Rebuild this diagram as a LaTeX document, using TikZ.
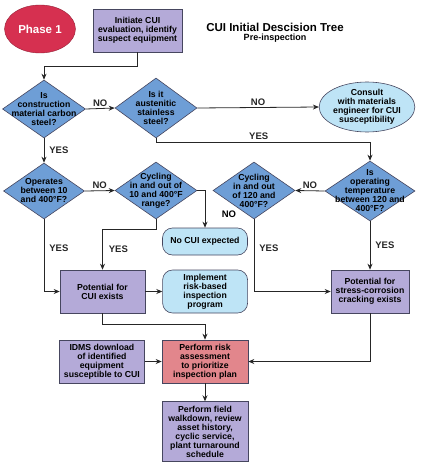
\documentclass[tikz,border=0pt]{standalone}
\usepackage{fontspec}
\setmainfont{Liberation Sans}
\usetikzlibrary{shapes.geometric, arrows.meta, positioning}
\definecolor{decblue}{RGB}{110, 158, 214}
\definecolor{boxpurple}{RGB}{180, 170, 216}
\definecolor{termblue}{RGB}{190, 228, 246}
\definecolor{riskpink}{RGB}{226, 134, 140}
\definecolor{phasered}{RGB}{214, 48, 80}
\definecolor{edgegray}{RGB}{70, 70, 95}

\begin{document}
\begin{tikzpicture}[
    x=1pt, y=-1pt,
    decision/.style={diamond, draw=edgegray, fill=decblue, line width=0.6pt, inner sep=0pt, minimum width=82pt, minimum height=57pt},
    dtext/.style={align=center, font=\fontsize{8.7}{9}\selectfont\bfseries, inner sep=0pt},
    process/.style={rectangle, draw=edgegray, fill=boxpurple, line width=0.6pt, minimum width=85pt, minimum height=43pt, align=center, inner sep=1pt, font=\fontsize{8.7}{9}\selectfont\bfseries},
    terminal/.style={process, rounded corners=10pt, fill=termblue},
    arrow/.style={-{Stealth[length=6pt, width=5pt]}, line width=0.8pt, color=black!85},
    lbl/.style={font=\fontsize{9.5}{10}\selectfont\bfseries, inner sep=2pt}
]
    \useasboundingbox (0,0) rectangle (421,468);

    % top row
    \node[ellipse, draw=phasered!70!black, fill=phasered, minimum width=66pt, minimum height=48pt, text=white, font=\fontsize{11.5}{12}\selectfont\bfseries] (phase) at (40,29) {Phase 1};
    \node[process, minimum width=89pt] (init) at (137.5,30.5) {Initiate CUI\\evaluation, identify\\suspect equipment};
    \node[font=\fontsize{11.5}{12}\selectfont\bfseries, inner sep=0pt] (title) at (275,27) {CUI Initial Descision Tree};
    \node[font=\fontsize{9}{9}\selectfont\bfseries, inner sep=0pt] (subtitle) at (275,38.5) {Pre-inspection};

    % material questions
    \node[decision, minimum width=83pt, minimum height=58pt, label={[dtext]center:Is\\construction\\material carbon\\steel?}] (d1) at (44,109) {};
    \node[decision, minimum height=60pt, label={[dtext]center:Is it\\austenitic\\stainless\\steel?}] (d2) at (156,108) {};
    \node[ellipse, draw=edgegray, fill=termblue, line width=0.6pt, minimum width=94pt, minimum height=50pt, inner sep=0pt, align=center, font=\fontsize{8.7}{9}\selectfont\bfseries] (consult) at (367,107) {Consult\\with materials\\engineer for CUI\\susceptibility};

    % temperature questions
    \node[decision, minimum width=81pt, minimum height=56pt, label={[dtext]center:Operates\\between 10\\and 400°F?}] (d3) at (44,191) {};
    \node[decision, label={[dtext]center:Cycling\\in and out of\\10 and 400°F\\range?}] (d4) at (156,190.5) {};
    \node[decision, label={[dtext]center:Cycling\\in and out\\of 120 and\\400°F?}] (d5) at (254,190.5) {};
    \node[decision, minimum width=90pt, minimum height=60pt, label={[dtext]center:Is\\operating\\temperature\\between 120 and\\400°F?}] (d6) at (370,191) {};

    % outcomes
    \node[terminal, minimum height=27pt] (nocui) at (205,241.5) {No CUI expected};
    \node[process] (pcui) at (102.5,291.5) {Potential for\\CUI exists};
    \node[terminal, right=17pt of pcui] (impl) {Implement\\risk-based\\inspection\\program};
    \node[process, minimum width=78pt] (scc) at (370,291.5) {Potential for\\stress-corrosion\\cracking exists};

    % bottom
    \node[process, fill=riskpink, minimum width=86pt] (risk) at (205,361.5) {Perform risk\\assessment\\to prioritize\\inspection plan};
    \node[process, left=17pt of risk] (idms) {IDMS download\\of identified\\equipment\\susceptible to CUI};
    \node[process, minimum width=86pt, minimum height=60pt, below=18pt of risk] (field) {Perform field\\walkdown, review\\asset history,\\cyclic service,\\plant turnaround\\schedule};

    \draw[arrow] (init.south) -- ++(0,14) -| (d1.north);
    \draw[arrow] (d1.east) -- node[lbl, above] {NO} (d2.west);
    \draw[arrow] (d2.east) -- node[lbl, above] {NO} (consult.west);
    \draw[arrow] (d2.south) -- ++(0,4) -| node[lbl, above, pos=0.24] {YES} (d6.north);
    \draw[arrow] (d1.south) -- node[lbl, right, xshift=3pt] {YES} (d3.north);
    \draw[arrow] (d3.east) -- node[lbl, above] {NO} (d4.west);
    \draw[arrow] (d4.east) -| (nocui.north);
    \node[lbl] (no4) at (229,214) {NO};
    \draw[arrow] (d4.south) -- ++(0,10) -| node[lbl, right, pos=0.75, xshift=4pt] {YES} (pcui.north);
    \draw[arrow] (d3.south) |- node[lbl, right, pos=0.2, xshift=3pt] {YES} (pcui.west);
    \draw[arrow] (pcui) -- (impl);
    \draw[arrow] (d6.west) -- node[lbl, above] {NO} (d5.east);
    \draw[arrow] (d5.south) |- node[lbl, right, pos=0.2, xshift=3pt] {YES} (scc.west);
    \draw[arrow] (d6.south) -- node[lbl, right, xshift=3pt] {YES} (scc.north);
    \draw[arrow] (pcui.south) -- ++(0,11) -| (risk.north);
    \draw[arrow] (idms) -- (risk);
    \draw[arrow] (scc.south) |- (risk.east);
    \draw[arrow] (risk) -- (field);
\end{tikzpicture}
\end{document}
